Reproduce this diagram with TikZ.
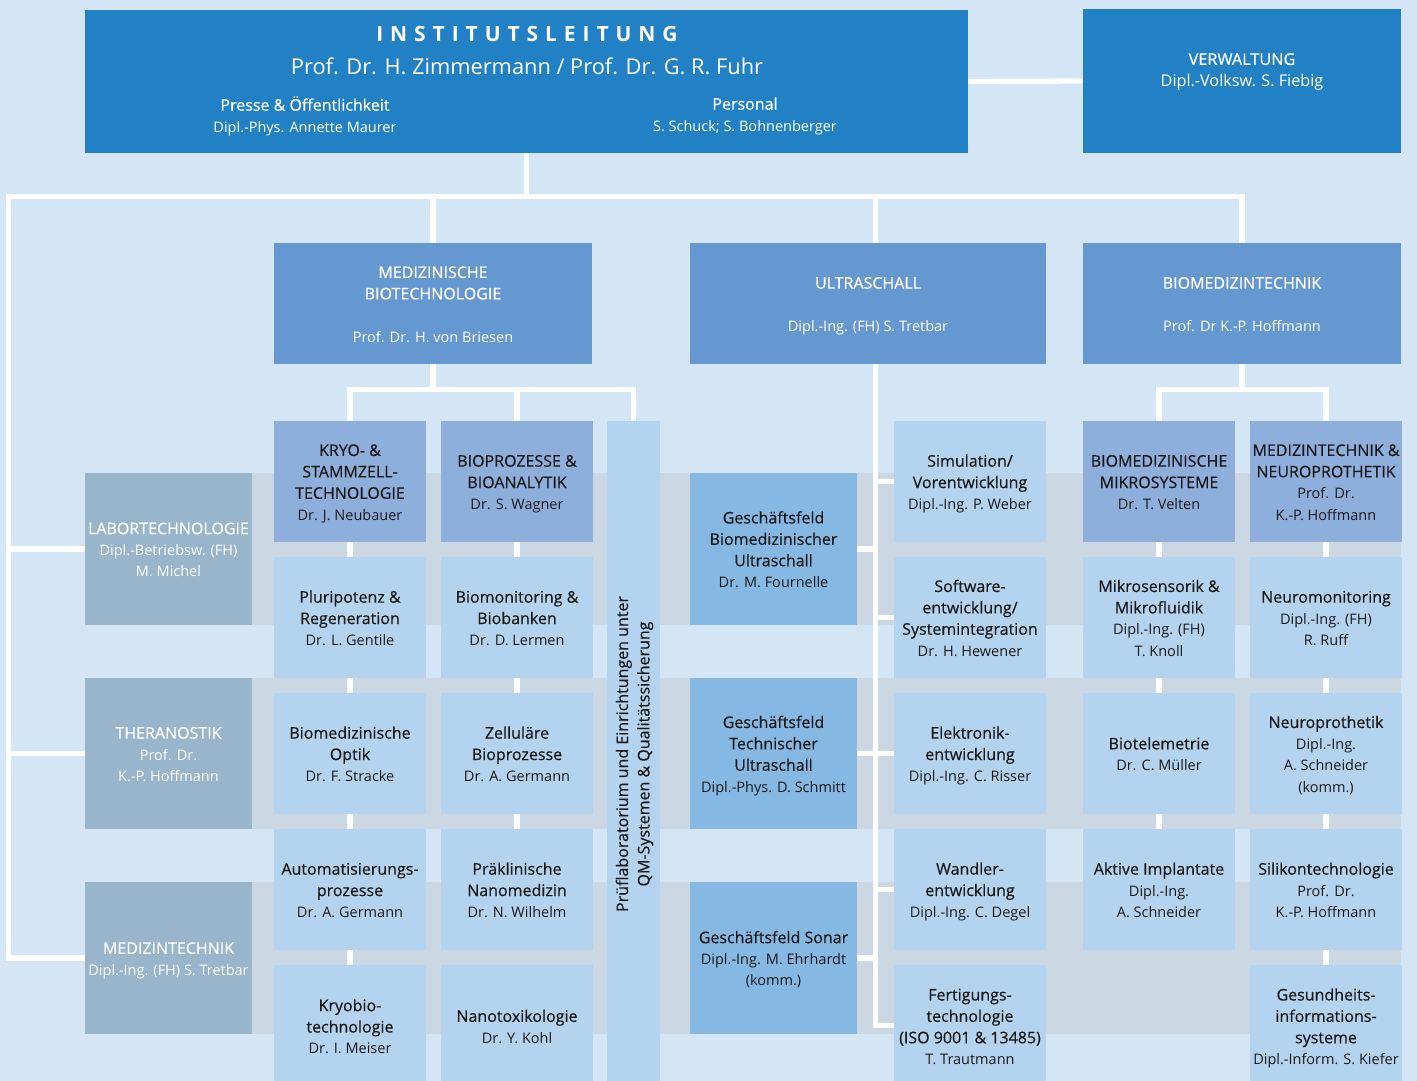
\documentclass[tikz,border=0pt]{standalone}
\usepackage{fontspec}
\setmainfont{Open Sans}
\newfontfamily\trackedfont[LetterSpace=33]{Open Sans}
\newfontfamily\hdfam[FakeBold=0.5]{Open Sans}
\newfontfamily\nmfam{Open Sans}
\pgfdeclarelayer{bands}
\pgfdeclarelayer{lines}
\pgfsetlayers{bands,lines,main}
\definecolor{bgc}{HTML}{D4E5F5}
\definecolor{bandc}{HTML}{CBD8E4}
\definecolor{topblue}{HTML}{2281C5}
\definecolor{midblue}{HTML}{6598D1}
\definecolor{headblue}{HTML}{8EAEDC}
\definecolor{subblue}{HTML}{B4D3EE}
\definecolor{greyblue}{HTML}{98B5CB}
\definecolor{gfblue}{HTML}{85B8E3}
\definecolor{darktext}{HTML}{1A1A1A}
\newcommand\hdfont{\hdfam\fontsize{16}{21.4}\selectfont}
\newcommand\nm{\nmfam\fontsize{14.5}{21.4}\selectfont}
\newcommand\bx[7]{\node[#6, minimum width=#4-#2, minimum height=#5-#3] (#1) at (#2,#3)
  {\rule{0pt}{17.6pt}#7\rule[-4.5pt]{0pt}{4.5pt}};}
\tikzset{
  conn/.style={draw=white, line width=5.3pt, line join=miter, line cap=butt},
  box/.style={inner sep=0pt, outer sep=0pt, anchor=north west, align=center, font=\hdfont},
  topbox/.style={box, fill=topblue, text=white},
  midbox/.style={box, fill=midblue, text=white},
  headbox/.style={box, fill=headblue, text=darktext},
  subbox/.style={box, fill=subblue, text=darktext},
  greybox/.style={box, fill=greyblue, text=white},
  gfbox/.style={box, fill=gfblue, text=darktext},
  toptext/.style={inner sep=0pt, text=white, align=center, font=\hdfont},
}
\begin{document}
\begin{tikzpicture}[x=1pt,y=-1pt]
\useasboundingbox (0,0) rectangle (1417,1081);
\clip (0,0) rectangle (1417,1081);
\begin{pgfonlayer}{bands}
  \fill[bgc] (0,0) rectangle (1417,1081);
  \fill[bandc] (85,473) rectangle (1401,625);
  \fill[bandc] (85,678) rectangle (1401,829);
  \fill[bandc] (85,882) rectangle (1401,1034);
\end{pgfonlayer}

% top level
\bx{inst}{85}{10}{968}{153}{topbox}{}
\bx{verw}{1083}{9}{1401}{153}{topbox}{}
\node[toptext, font=\trackedfont\bfseries\fontsize{21}{24}\selectfont] (tTitle) at (527,34) {INSTITUTSLEITUNG};
\node[toptext, font=\nmfam\fontsize{21.8}{26}\selectfont] (tHeads) at (527,66) {Prof. Dr. H. Zimmermann / Prof. Dr. G. R. Fuhr};
\node[toptext] (tPresse) at (305,116) {Presse \& Öffentlichkeit\\{\nm Dipl.-Phys. Annette Maurer}};
\node[toptext] (tPers) at (745,116) {Personal\\{\nm S. Schuck; S. Bohnenberger}};
\node[toptext, font=\hdfam\fontsize{16.3}{22}\selectfont] (tVerw) at (1242,72) {VERWALTUNG\\{\nmfam\fontsize{16.2}{22}\selectfont Dipl.-Volksw. S. Fiebig}};

% second level
\bx{mbt}{274}{243}{592}{364}{midbox}{MEDIZINISCHE\\BIOTECHNOLOGIE\\[21.4pt]{\nm Prof. Dr. H. von Briesen}}
\bx{usb}{690}{243}{1046}{364}{midbox}{ULTRASCHALL\\[21.4pt]{\nm Dipl.-Ing. (FH) S. Tretbar}}
\bx{bmt}{1083}{243}{1401}{364}{midbox}{BIOMEDIZINTECHNIK\\[21.4pt]{\nm Prof. Dr K.-P. Hoffmann}}

% left grey boxes
\bx{labor}{85}{473}{252}{625}{greybox}{LABORTECHNOLOGIE\\{\nm Dipl.-Betriebsw. (FH)}\\{\nm M. Michel}}
\bx{thera}{85}{678}{252}{829}{greybox}{THERANOSTIK\\{\nm Prof. Dr.}\\{\nm K.-P. Hoffmann}}
\bx{medtl}{85}{882}{252}{1034}{greybox}{MEDIZINTECHNIK\\{\nm Dipl.-Ing. (FH) S. Tretbar}}

% column 1
\bx{kryo}{274}{421}{426}{542}{headbox}{KRYO- \&\\STAMMZELL-\\TECHNOLOGIE\\{\nm Dr. J. Neubauer}}
\bx{pluri}{274}{557}{426}{678}{subbox}{Pluripotenz \&\\Regeneration\\{\nm Dr. L. Gentile}}
\bx{optik}{274}{693}{426}{814}{subbox}{Biomedizinische\\Optik\\{\nm Dr. F. Stracke}}
\bx{auto}{274}{829}{426}{950}{subbox}{Automatisierungs-\\prozesse\\{\nm Dr. A. Germann}}
\bx{kryobio}{274}{965}{426}{1087}{subbox}{Kryobio-\\technologie\\{\nm Dr. I. Meiser}}

% column 2
\bx{biop}{441}{421}{593}{542}{headbox}{BIOPROZESSE \&\\BIOANALYTIK\\{\nm Dr. S. Wagner}}
\bx{biomon}{441}{557}{593}{678}{subbox}{Biomonitoring \&\\Biobanken\\{\nm Dr. D. Lermen}}
\bx{zell}{441}{693}{593}{814}{subbox}{Zelluläre\\Bioprozesse\\{\nm Dr. A. Germann}}
\bx{prakl}{441}{829}{593}{950}{subbox}{Präklinische\\Nanomedizin\\{\nm Dr. N. Wilhelm}}
\bx{nanotox}{441}{965}{593}{1087}{subbox}{Nanotoxikologie\\{\nm Dr. Y. Kohl}}

% Pruef column
\bx{prf}{607}{421}{660}{1087}{subbox}{}
\node[inner sep=0pt, align=center, font=\hdfont, text=darktext, rotate=90] (prfT) at (634.5,754) {Prüflaboratorium und Einrichtungen unter\\QM-Systemen \& Qualitätssicherung};

% Geschaeftsfelder
\bx{gf1}{690}{473}{857}{625}{gfbox}{Geschäftsfeld\\Biomedizinischer\\Ultraschall\\{\nm Dr. M. Fournelle}}
\bx{gf2}{690}{678}{857}{829}{gfbox}{Geschäftsfeld\\Technischer\\Ultraschall\\{\nm Dipl.-Phys. D. Schmitt}}
\bx{gf3}{690}{882}{857}{1034}{gfbox}{Geschäftsfeld Sonar\\{\nm Dipl.-Ing. M. Ehrhardt}\\{\nm (komm.)}}

% ultrasound column
\bx{sim}{894}{421}{1046}{542}{subbox}{Simulation/\\Vorentwicklung\\{\nm Dipl.-Ing. P. Weber}}
\bx{soft}{894}{557}{1046}{678}{subbox}{Software-\\entwicklung/\\Systemintegration\\{\nm Dr. H. Hewener}}
\bx{elek}{894}{693}{1046}{814}{subbox}{Elektronik-\\entwicklung\\{\nm Dipl.-Ing. C. Risser}}
\bx{wand}{894}{829}{1046}{950}{subbox}{Wandler-\\entwicklung\\{\nm Dipl.-Ing. C. Degel}}
\bx{fert}{894}{965}{1046}{1087}{subbox}{Fertigungs-\\technologie\\(ISO 9001 \& 13485)\\{\nm T. Trautmann}}

% biomed column A
\bx{bms}{1083}{421}{1235}{542}{headbox}{BIOMEDIZINISCHE\\MIKROSYSTEME\\{\nm Dr. T. Velten}}
\bx{mikro}{1083}{557}{1235}{678}{subbox}{Mikrosensorik \&\\Mikrofluidik\\{\nm Dipl.-Ing. (FH)}\\{\nm T. Knoll}}
\bx{biotel}{1083}{693}{1235}{814}{subbox}{Biotelemetrie\\{\nm Dr. C. Müller}}
\bx{aktiv}{1083}{829}{1235}{950}{subbox}{Aktive Implantate\\{\nm Dipl.-Ing.}\\{\nm A. Schneider}}

% biomed column B
\bx{mtn}{1250}{421}{1402}{542}{headbox}{MEDIZINTECHNIK \&\\NEUROPROTHETIK\\{\nm Prof. Dr.}\\{\nm K.-P. Hoffmann}}
\bx{neuromon}{1250}{557}{1402}{678}{subbox}{Neuromonitoring\\{\nm Dipl.-Ing. (FH)}\\{\nm R. Ruff}}
\bx{neuroprot}{1250}{693}{1402}{814}{subbox}{Neuroprothetik\\{\nm Dipl.-Ing.}\\{\nm A. Schneider}\\{\nm (komm.)}}
\bx{silikon}{1250}{829}{1402}{950}{subbox}{Silikontechnologie\\{\nm Prof. Dr.}\\{\nm K.-P. Hoffmann}}
\bx{gesund}{1250}{965}{1402}{1087}{subbox}{Gesundheits-\\informations-\\systeme\\{\nm Dipl.-Inform. S. Kiefer}}

% connectors
\begin{pgfonlayer}{lines}
  \coordinate (tl) at (8.7,196.7);
  \coordinate (usx) at (875.8,1025.5);
  \coordinate (busy) at (0,389.4);
  \draw[conn] (inst.east) -- (verw.west);
  \draw[conn] (inst.south) -- (inst.south |- tl);
  \draw[conn] (medtl.west) -| (tl) -- (bmt.north |- tl) -- (bmt.north);
  \draw[conn] (labor.west) -- (labor.west -| tl);
  \draw[conn] (thera.west) -- (thera.west -| tl);
  \draw[conn] (mbt.north) -- (mbt.north |- tl);
  \draw[conn] (usx |- tl) -- (usx) -- (fert.west |- usx);
  \foreach \n in {sim,soft,elek,wand} \draw[conn] (\n.west) -- (\n.west -| usx);
  \foreach \n in {gf1,gf2,gf3} \draw[conn] (\n.east) -- (\n.east -| usx);
  \draw[conn] (mbt.south) -- (mbt.south |- busy);
  \draw[conn] (kryo.north) |- (prf.north |- busy) -- (prf.north);
  \draw[conn] (biop.north) -- (biop.north |- busy);
  \draw[conn] (bmt.south) -- (bmt.south |- busy);
  \draw[conn] (bms.north) |- (mtn.north |- busy) -- (mtn.north);
  \foreach \a/\b in {kryo/pluri, pluri/optik, optik/auto, auto/kryobio,
                     biop/biomon, biomon/zell, zell/prakl,
                     bms/mikro, mikro/biotel, biotel/aktiv,
                     mtn/neuromon, neuromon/neuroprot, neuroprot/silikon, silikon/gesund}
    \draw[conn] (\a.south) -- (\b.north);
\end{pgfonlayer}
\end{tikzpicture}
\end{document}
